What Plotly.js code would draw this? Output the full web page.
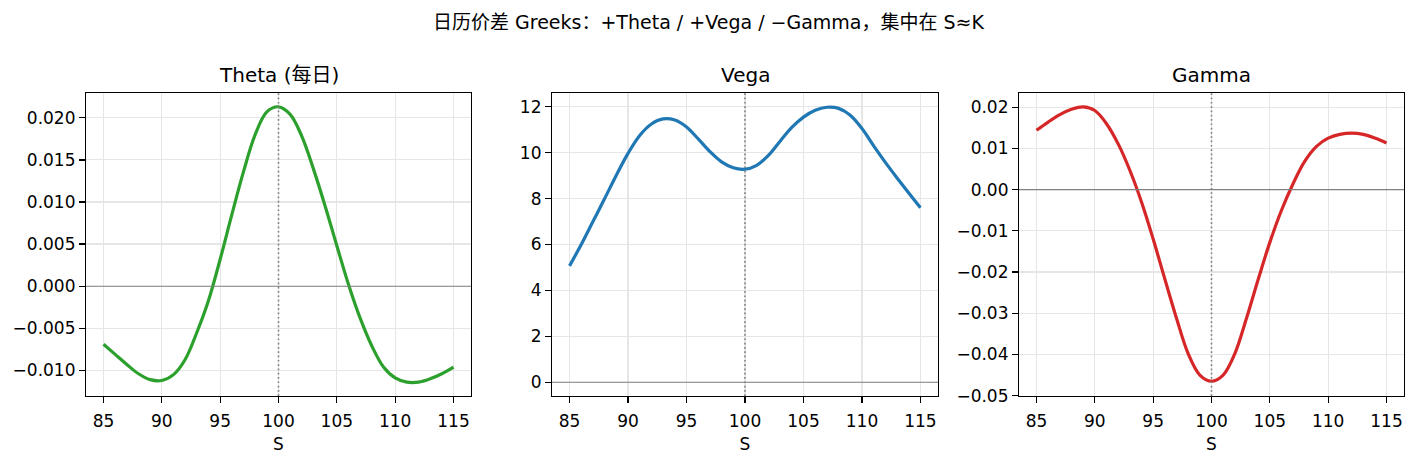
<!DOCTYPE html>
<html>
<head>
<meta charset="utf-8">
<script src="https://cdn.plot.ly/plotly-3.0.1.min.js"></script>
<style>html,body{margin:0;padding:0;background:#fff;}#chart{width:1417px;height:465px;}</style>
</head>
<body>
<div id="chart"></div>
<script>
// ---- data ----
const S = [85,86,87,88,89,90,91,92,93,94,95,96,97,98,99,100,101,102,103,104,105,106,107,108,109,110,111,112,113,114,115];
const K = 100;
const theta = [-0.0069,-0.0081,-0.0093,-0.0104,-0.0111,-0.0112,-0.0105,-0.0087,-0.0055,-0.0017,0.0032,0.0085,0.0136,0.0180,0.0207,0.0213,0.0204,0.0178,0.0139,0.0095,0.0048,0.0002,-0.0038,-0.0071,-0.0096,-0.0109,-0.0114,-0.0114,-0.0110,-0.0104,-0.0096];
const vega = [5.07,6.0,7.0,8.0,9.02,9.97,10.75,11.25,11.47,11.42,11.12,10.6,10.05,9.6,9.34,9.28,9.45,9.88,10.5,11.1,11.55,11.85,11.98,11.93,11.63,11.05,10.3,9.58,8.9,8.24,7.6];
const gamma = [0.0144,0.0164,0.0182,0.0195,0.0201,0.0192,0.0160,0.0111,0.0047,-0.0030,-0.0120,-0.0217,-0.0312,-0.0398,-0.0450,-0.0465,-0.0450,-0.0398,-0.0312,-0.0218,-0.0128,-0.0050,0.0015,0.0069,0.0105,0.0125,0.0134,0.0137,0.0134,0.0125,0.0113];
const panelTitles = ['Theta (每日)', 'Vega', 'Gamma'];
const suptitle = '日历价差 Greeks：+Theta / +Vega / −Gamma，集中在 S≈K';
const xTitle = 'S';
const xTicks = [85,90,95,100,105,110,115];

// ---- styling ----
const FONT = '"DejaVu Sans", "Noto Sans CJK SC", sans-serif';
const W = 1417, H = 465;
const colors = ['#2ca02c', '#1f77b4', '#d62728'];
const series = [theta, vega, gamma];
const px = [[86, 471], [552, 938], [1019, 1404]];
const yDom = [1 - 396 / H, 1 - 93 / H];
const yRanges = [[-0.01304, 0.02294], [-0.6, 12.6], [-0.05008, 0.02345]];
const yDticks = [0.005, 2, 0.01];
const yFormats = ['.3f', 'd', '.2f'];
const TICK = 17;

const traces = series.map((ys, i) => ({
  x: S, y: ys, type: 'scatter', mode: 'lines',
  xaxis: i === 0 ? 'x' : 'x' + (i + 1),
  yaxis: i === 0 ? 'y' : 'y' + (i + 1),
  line: { color: colors[i], width: 3.2, shape: 'spline', smoothing: 1 },
  hoverinfo: 'skip', showlegend: false
}));

const layout = {
  width: W, height: H,
  margin: { l: 0, r: 0, t: 0, b: 0 },
  paper_bgcolor: '#ffffff', plot_bgcolor: '#ffffff',
  font: { family: FONT, color: '#000000', size: TICK },
  title: { text: suptitle, x: 0.5, xanchor: 'center', xref: 'paper', y: 1 - 22 / H, yanchor: 'middle', yref: 'container', font: { family: FONT, size: 19, color: '#000' } },
  showlegend: false,
  shapes: [], annotations: []
};

const axisBase = {
  showline: true, linecolor: '#000', linewidth: 1.3, mirror: true,
  ticks: 'outside', ticklen: 5.8, tickwidth: 1.3, tickcolor: '#000',
  showgrid: true, gridcolor: '#e6e6e6', gridwidth: 1.2,
  zeroline: false, tickfont: { family: FONT, size: TICK, color: '#000' },
  fixedrange: true
};

for (let i = 0; i < 3; i++) {
  const sx = i === 0 ? '' : String(i + 1);
  layout['xaxis' + sx] = Object.assign({}, axisBase, {
    domain: [px[i][0] / W, px[i][1] / W],
    anchor: 'y' + sx,
    range: [83.5, 116.5],
    tickmode: 'array', tickvals: xTicks, ticktext: xTicks.map(String),
    ticklabelstandoff: 3,
    title: { text: xTitle, font: { family: FONT, size: TICK, color: '#000' }, standoff: 8 }
  });
  layout['yaxis' + sx] = Object.assign({}, axisBase, {
    domain: yDom,
    anchor: 'x' + sx,
    range: yRanges[i],
    tick0: 0, dtick: yDticks[i], tickformat: yFormats[i]
  });
  layout.shapes.push({
    type: 'line', xref: 'x' + sx + ' domain', yref: 'y' + sx,
    x0: 0, x1: 1, y0: 0, y1: 0,
    line: { color: '#808080', width: 1.1 }, layer: 'above'
  });
  layout.shapes.push({
    type: 'line', xref: 'x' + sx, yref: 'y' + sx + ' domain',
    x0: K, x1: K, y0: 0, y1: 1,
    line: { color: '#808080', width: 1.6, dash: '1.7px,2.6px' }, layer: 'above'
  });
  layout.annotations.push({
    text: panelTitles[i], xref: 'paper', yref: 'paper',
    x: (px[i][0] + px[i][1]) / 2 / W, y: 1 - 75 / H,
    xanchor: 'center', yanchor: 'middle', showarrow: false,
    font: { family: FONT, size: 20, color: '#000' }
  });
}

Plotly.newPlot('chart', traces, layout, { staticPlot: true, displayModeBar: false });
</script>
</body>
</html>
